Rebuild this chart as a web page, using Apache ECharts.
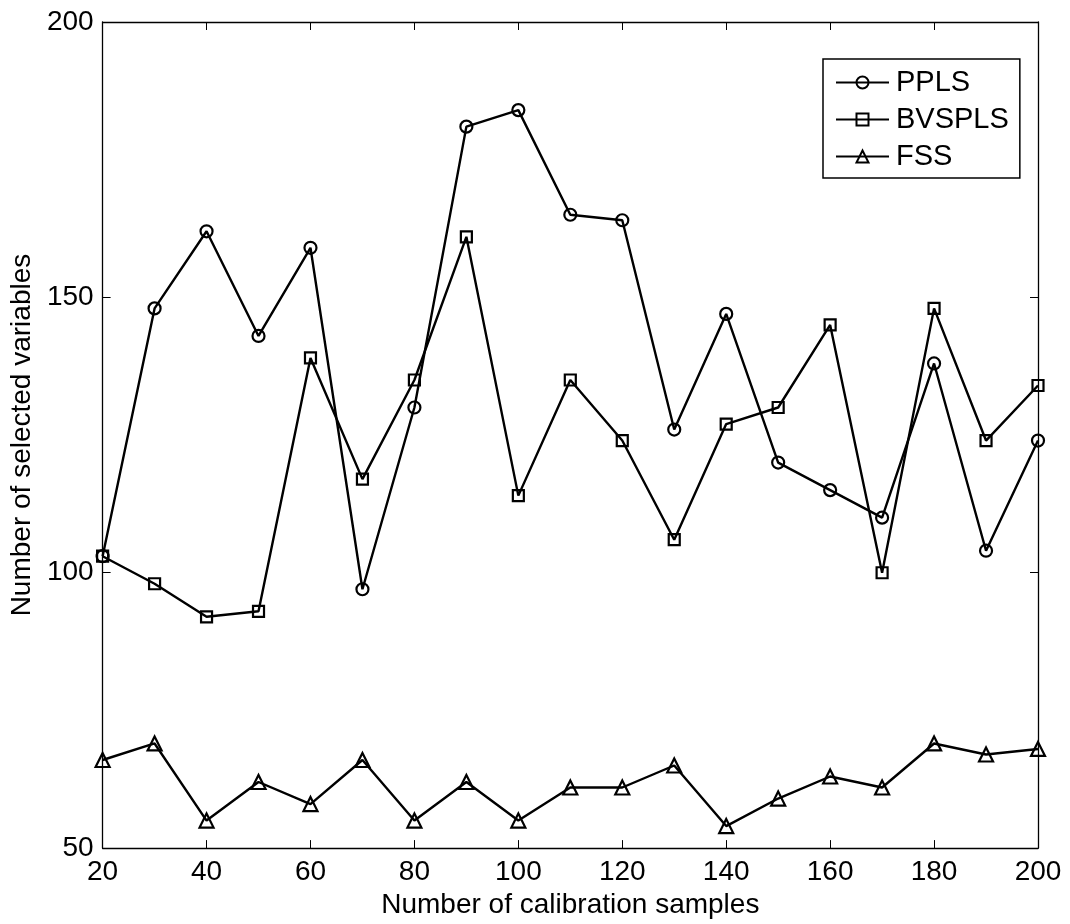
<!DOCTYPE html>
<html>
<head>
<meta charset="utf-8">
<script src="https://cdn.jsdelivr.net/npm/echarts@6/dist/echarts.min.js"></script>
<style>
html,body{margin:0;padding:0;background:#fff;}
#c{width:1070px;height:924px;}
</style>
</head>
<body>
<div id="c"></div>
<script>
const samples = [20,30,40,50,60,70,80,90,100,110,120,130,140,150,160,170,180,190,200];
const ppls   = [103,148,162,143,159,97,130,181,184,165,164,126,147,120,115,110,138,104,124];
const bvspls = [103,98,92,93,139,117,135,161,114,135,124,106,127,130,145,100,148,124,134];
const fss    = [66,69,55,62,58,66,55,62,55,61,61,65,54,59,63,61,69,67,68];
const xTicks = [20,40,60,80,100,120,140,160,180,200];
const yTicks = [50,100,150,200];

const FONT = 'Liberation Sans, Arial, Helvetica, sans-serif';
const toPairs = ys => samples.map((x,i)=>[x, ys[i]]);

const axisCommon = {
  axisLine:{show:true, onZero:false, lineStyle:{color:'#000', width:1.3}},
  axisTick:{show:true, inside:true, length:8, lineStyle:{color:'#000', width:1}},
  splitLine:{show:false}
};

function mkSeries(name, ys, symbol, size){
  return {
    name, type:'line', data:toPairs(ys),
    symbol, symbolSize:size, showAllSymbol:true,
    lineStyle:{color:'#000', width:2.4},
    itemStyle:{color:'rgba(255,255,255,0)', borderColor:'#000', borderWidth:2.2},
    emphasis:{disabled:true},
    animation:false, z:3
  };
}

const chart = echarts.init(document.getElementById('c'), null, {renderer:'canvas'});
chart.setOption({
  backgroundColor:'#fff',
  animation:false,
  grid:{left:102, right:32, top:22, bottom:74, containLabel:false},
  legend:{
    orient:'vertical', left:823, top:59,
    data:['PPLS','BVSPLS','FSS'],
    borderColor:'#000', borderWidth:1.5, backgroundColor:'#fff',
    padding:[9,11,7,12], itemGap:8, itemWidth:53, itemHeight:15,
    textStyle:{fontFamily:FONT, fontSize:29, color:'#000', padding:[0,0,0,2]},
    selectedMode:false
  },
  xAxis:[
    Object.assign({
      type:'value', min:20, max:200, interval:20, position:'bottom',
      name:'Number of calibration samples', nameLocation:'middle', nameGap:42,
      nameTextStyle:{fontFamily:FONT, fontSize:28, color:'#000'},
      axisLabel:{fontFamily:FONT, fontSize:28, color:'#000', margin:10,
        formatter:v=>xTicks.includes(v)?String(v):''}
    }, axisCommon),
    Object.assign({
      type:'value', min:20, max:200, interval:20, position:'top',
      axisLabel:{show:false}
    }, axisCommon)
  ],
  yAxis:[
    Object.assign({
      type:'value', min:50, max:200, interval:50, position:'left',
      name:'Number of selected variables', nameLocation:'middle', nameGap:66, nameRotate:90,
      nameTextStyle:{fontFamily:FONT, fontSize:28, color:'#000'},
      axisLabel:{fontFamily:FONT, fontSize:28, color:'#000', margin:9,
        formatter:v=>yTicks.includes(v)?String(v):''}
    }, axisCommon),
    Object.assign({
      type:'value', min:50, max:200, interval:50, position:'right',
      axisLabel:{show:false}
    }, axisCommon)
  ],
  series:[
    mkSeries('PPLS', ppls, 'circle', 12),
    mkSeries('BVSPLS', bvspls, 'rect', 11),
    mkSeries('FSS', fss, 'triangle', 14)
  ]
});
</script>
</body>
</html>
